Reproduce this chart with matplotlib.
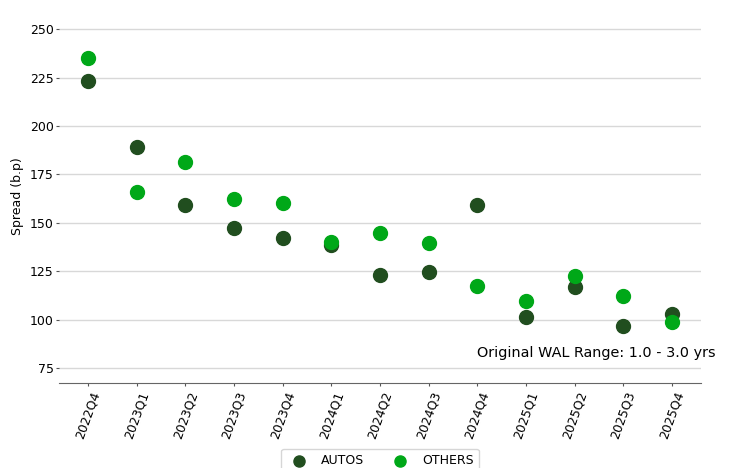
import matplotlib.pyplot as plt

quarters = ['2022Q4', '2023Q1', '2023Q2', '2023Q3', '2023Q4', '2024Q1', '2024Q2',
            '2024Q3', '2024Q4', '2025Q1', '2025Q2', '2025Q3', '2025Q4']
autos = [223.1, 189.3, 159.0, 147.1, 142.3, 138.7, 123.2, 124.7, 159.1, 101.4, 117.0, 96.5, 102.7]
others = [235.1, 165.7, 181.4, 162.3, 160.3, 140.2, 144.8, 139.5, 117.5, 109.4, 122.8, 112.2, 99.0]

fig = plt.figure(figsize=(7.32, 4.68), dpi=100)
ax = fig.add_axes([0.0806, 0.1816, 0.8771, 0.7974])

x = range(len(quarters))
ax.scatter(x, autos, s=100, color='#214e1f', label='AUTOS', zorder=3)
ax.scatter(x, others, s=100, color='#00a818', label='OTHERS', zorder=3)

ax.set_xticks(list(x))
ax.set_xticklabels(quarters, rotation=70, fontsize=9)
ax.set_xlim(-0.6, len(quarters) - 0.4)
ax.set_ylim(67.3, 260)
ax.set_yticks([75, 100, 125, 150, 175, 200, 225, 250])
ax.tick_params(axis='y', labelsize=9, length=2, pad=1.8, colors='#555555', labelcolor='black')
ax.tick_params(axis='x', length=2, pad=2.5, colors='#555555', labelcolor='black')
ax.set_ylabel('Spread (b.p)', fontsize=9)

ax.grid(axis='y', color='#d8d8d8', linewidth=1)
ax.set_axisbelow(True)
for s in ['top', 'right', 'left']:
    ax.spines[s].set_visible(False)
ax.spines['bottom'].set_color('#666666')

ax.text(1.022, 0.08, 'Original WAL Range: 1.0 - 3.0 yrs', transform=ax.transAxes,
        ha='right', va='center', fontsize=10.4)

ax.legend(loc='upper center', bbox_to_anchor=(0.5, -0.16), ncol=2, fontsize=9,
          markerscale=0.8, columnspacing=1.8, handletextpad=0.8)

fig.savefig('out.png', dpi=100)
